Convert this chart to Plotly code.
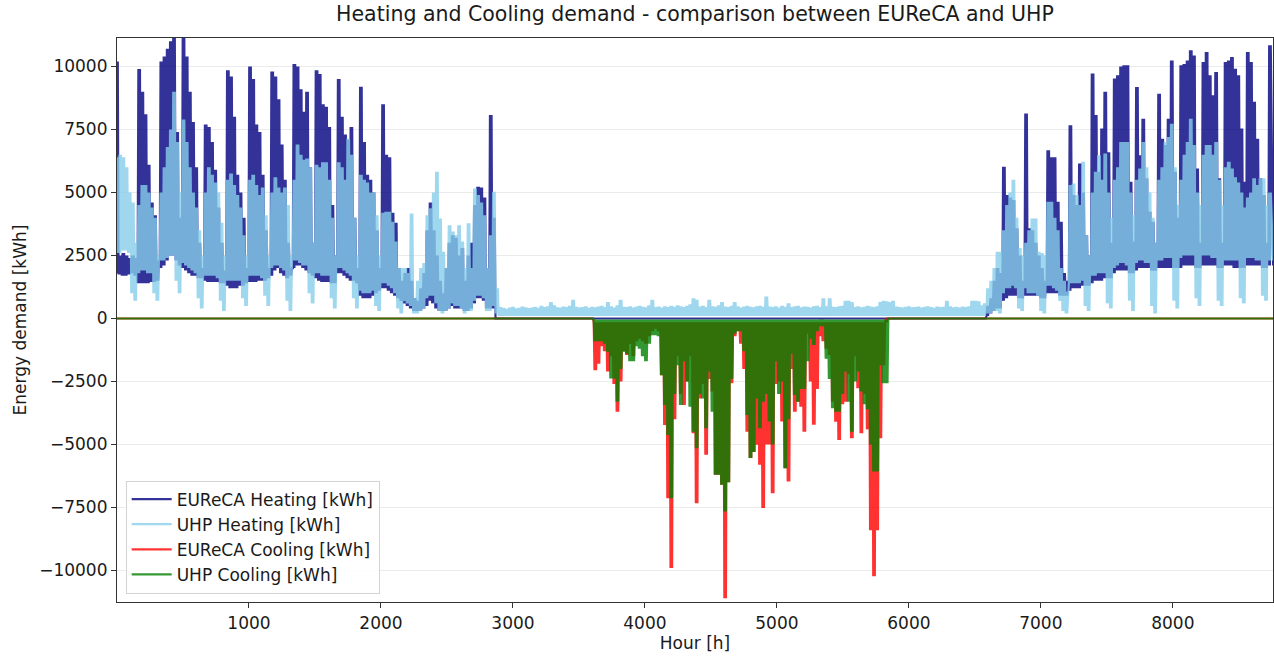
import plotly.graph_objects as go

# ---------------- data (daily envelopes, kWh) ----------------
# Winter part 1: day 0 .. 120
EURECA_HEAT_HI_W1 = [
    10200, 2500, 2600, 2500, 2400, 2500, 2400,
    9900, 9000, 8100, 6100, 4600, 4100, 2300,
    10200, 10400, 10700, 11000, 11200, 7400, 4000,
    11200, 10400, 9000, 7800, 6000, 3000, 2000,
    7700, 7600, 7000, 5900, 4400, 3000, 1900,
    9850, 9600, 8000, 5700, 5000, 4000, 2000,
    10000, 9500, 7700, 7400, 5700, 3500, 2000,
    9800, 9600, 8700, 6900, 5500, 3000, 2000,
    10100, 10000, 9100, 8200, 9000, 6000, 3000,
    9850, 9700, 8500, 8400, 7600, 4500, 2500,
    9500, 8000, 7300, 7100, 7600, 4000, 2000,
    9200, 7000, 5700, 5500, 5000, 3500, 2000,
    8500, 6500, 6400, 4200, 3800, 2000, 1500,
    1800, 2000, 1500, 800, 700, 1200, 1800,
    3500, 4600, 3500, 2500, 1500, 1000, 2000,
    3000, 3300, 3200, 2500, 2800, 1500, 2500,
    3000, 4500, 5230, 5200, 4800, 2000, 8070,
    4000, 0,
]
EURECA_HEAT_LO_W1 = [
    1800, 1750, 1700, 1700, 1750, 1800, 1700,
    1400, 1400, 1400, 1400, 1450, 1450, 1500,
    2000, 2100, 2300, 2500, 2500, 2300, 2100,
    2000, 1900, 1800, 1700, 1700, 1600, 1600,
    1500, 1450, 1450, 1450, 1450, 1400, 1400,
    1300, 1200, 1200, 1200, 1300, 1300, 1400,
    1450, 1450, 1450, 1500, 1500, 1500, 1600,
    1700, 1900, 2000, 1800, 1700, 1600, 1700,
    2000, 2100, 2100, 2000, 1900, 1800, 1700,
    1600, 1500, 1450, 1450, 1450, 1400, 1400,
    1800, 1800, 1700, 1600, 1500, 1500, 1400,
    900, 800, 800, 800, 900, 1000, 1100,
    1200, 1200, 1100, 1000, 900, 800, 700,
    600, 500, 400, 300, 300, 300, 400,
    500, 700, 600, 400, 300, 300, 300,
    400, 500, 400, 400, 400, 300, 300,
    400, 600, 800, 800, 700, 400, 400,
    400, 0,
]
UHP_HEAT_HI_W1 = [
    6400, 6500, 6400, 6000, 5000, 4600, 3000,
    4500, 5300, 5300, 5000, 4400, 4000, 2500,
    5000, 6000, 6800, 7500, 9000, 7000, 5000,
    7900, 7000, 6000, 5000, 4400, 3500, 2500,
    5000, 6000, 5700, 5400, 5000, 3800, 2500,
    5500, 5750, 5300, 4900, 4400, 3300, 2500,
    5500, 5700, 5300, 4900, 5200, 4100, 2500,
    5000, 5600, 5200, 5000, 5200, 4500, 2500,
    5500, 6900, 6500, 6300, 6350, 6000, 3000,
    6100, 6000, 6200, 6200, 5500, 4000, 2500,
    6200, 6000, 5500, 7130, 6500, 4000, 2500,
    5700, 5500, 5400, 5000, 5000, 4100, 2500,
    4200, 4240, 4240, 3840, 3050, 2000, 2000,
    2000, 1800, 4170, 800, 1500, 2000, 2200,
    4100, 4370, 5000, 5820, 3970, 2650, 2000,
    3700, 3450, 3300, 3700, 3050, 2000, 3780,
    2000, 5160, 4900, 4600, 4100, 2000, 3300,
    5030, 1200,
]
UHP_HEAT_LO_W1 = [
    2600, 2600, 2700, 2700, 2600, 1000, 700,
    1800, 1900, 1900, 1800, 1800, 1000, 700,
    2300, 2300, 2400, 2500, 2500, 1500, 1000,
    2200, 2100, 2000, 1900, 1800, 800, 400,
    1700, 1700, 1700, 1700, 1600, 700, 300,
    1500, 1500, 1500, 1500, 1500, 800, 500,
    1700, 1700, 1700, 1700, 1600, 900, 500,
    2000, 2100, 2100, 2000, 1900, 700, 300,
    2300, 2300, 2200, 2100, 2100, 1000, 600,
    1800, 1800, 1700, 1700, 1700, 800, 400,
    2000, 2000, 1900, 1800, 1700, 800, 400,
    1100, 1000, 1000, 1000, 1100, 500, 300,
    1400, 1400, 1300, 1200, 1000, 400, 200,
    700, 600, 500, 200, 200, 300, 400,
    800, 900, 900, 600, 300, 200, 300,
    400, 600, 500, 500, 400, 200, 300,
    300, 700, 900, 900, 800, 300, 300,
    500, 200,
]

# Summer: day 121 .. 274 (EUReCA heating is zero, UHP keeps a small base load)
EURECA_HEAT_SUMMER = 0
UHP_SUMMER_FLOOR = 100
UHP_HEAT_HI_SUMMER = [
    450, 420, 380, 430, 460, 400, 420, 470, 440, 410,
    430, 460, 420, 500, 450, 480, 650, 520, 440, 430,
    470, 450, 500, 740, 460, 430, 450, 480, 420, 460,
    440, 470, 500, 450, 650, 480, 430, 520, 740, 460,
    450, 480, 430, 470, 500, 460, 440, 520, 740, 450,
    470, 430, 480, 450, 500, 460, 520, 480, 450, 500,
    560, 800, 740, 470, 500, 450, 740, 480, 460, 520,
    650, 470, 450, 500, 650, 480, 430, 470, 500, 460,
    440, 480, 500, 460, 870, 470, 450, 480, 430, 500,
    460, 600, 450, 480, 500, 440, 470, 460, 430, 480,
    500, 450, 800, 480, 800, 460, 450, 480, 500, 700,
    700, 650, 450, 480, 440, 460, 500, 470, 450, 480,
    650, 700, 680, 650, 700, 470, 450, 430, 460, 480,
    440, 450, 470, 430, 460, 480, 450, 420, 470, 450,
    460, 700, 480, 440, 460, 430, 470, 450, 480, 700,
    700, 680, 520, 600,
]

# Winter part 2: day 275 .. 364
EURECA_HEAT_HI_W2 = [
    500, 800, 1500, 2000, 1800,
    6020, 4900, 4800, 4700, 3580, 2500, 1500,
    8130, 3580, 3500, 3000, 2500, 2000, 1500,
    6680, 6400, 6400, 4630, 3840, 1800, 1500,
    7670, 4900, 4500, 6150, 5000, 3300, 2500,
    9720, 8070, 5820, 7540, 9000, 6600, 3000,
    9520, 9650, 10000, 10050, 10050, 5430, 3050,
    9190, 6480, 7930, 5560, 4240, 3840, 3000,
    8920, 7130, 6880, 7930, 10240, 5820, 4000,
    10050, 10100, 10240, 10640, 10440, 5950, 3000,
    10180, 10570, 9650, 8860, 9780, 5560, 3000,
    10180, 10240, 10380, 9910, 9650, 7540, 5430,
    10570, 10180, 8600, 7130, 5560, 4900, 3000, 10840,
]
EURECA_HEAT_LO_W2 = [
    100, 200, 300, 400, 400,
    700, 800, 900, 900, 900, 800, 800,
    900, 900, 900, 900, 900, 800, 800,
    1000, 1000, 1000, 1000, 900, 900, 900,
    1100, 1200, 1200, 1200, 1300, 1300, 1300,
    1400, 1500, 1500, 1500, 1600, 1600, 1600,
    1800, 1900, 1900, 1900, 1900, 1800, 1800,
    1900, 2000, 2000, 2000, 2000, 1900, 1900,
    2000, 2000, 2000, 2000, 2000, 2000, 2000,
    2000, 2100, 2100, 2100, 2100, 2000, 2000,
    2100, 2100, 2100, 2100, 2100, 2000, 2000,
    2100, 2100, 2100, 2000, 2000, 2000, 2000,
    2100, 2100, 2100, 2100, 2100, 2000, 2000, 2100,
]
UHP_HEAT_HI_W2 = [
    1200, 1500, 2000, 2650, 2650,
    3500, 4500, 5000, 5500, 4000, 2800, 2500,
    3000, 3500, 3970, 3970, 2650, 2600, 2500,
    4630, 4630, 4000, 3500, 2000, 1500, 1070,
    5300, 5360, 4900, 4500, 6220, 3300, 2500,
    5000, 5820, 6480, 5500, 6550, 5000, 4000,
    5500, 6000, 7000, 7000, 7000, 5000, 4100,
    5500, 5950, 7000, 6000, 5000, 4000, 3000,
    5500, 6000, 7000, 7200, 7730, 6000, 4500,
    5500, 6500, 7000, 7930, 6880, 5000, 4500,
    6500, 6880, 6880, 6500, 7000, 5500, 4500,
    6000, 6220, 5950, 5600, 5400, 5000, 4400,
    4800, 5000, 5560, 5300, 5560, 5560, 4500, 5000,
]
UHP_HEAT_LO_W2 = [
    200, 200, 300, 300, 200,
    1000, 1200, 1200, 1300, 1200, 400, 300,
    1200, 1000, 1000, 1000, 900, 300, 200,
    1300, 1300, 1200, 1100, 700, 300, 200,
    1400, 1400, 1400, 1400, 1500, 500, 300,
    1700, 1700, 1800, 1800, 1800, 600, 400,
    2000, 2100, 2200, 2200, 2100, 700, 300,
    2200, 2300, 2300, 2200, 2200, 500, 200,
    2300, 2300, 2400, 2400, 2400, 700, 400,
    2400, 2500, 2500, 2500, 2500, 800, 500,
    2500, 2500, 2500, 2400, 2400, 700, 500,
    2300, 2300, 2300, 2300, 2300, 800, 600,
    2400, 2400, 2400, 2300, 2300, 900, 700, 2300,
]

# Cooling season: day 151 .. 243 (negative = cooling)
COOL_FIRST_DAY = 151
EURECA_COOL_MIN = [
    -2050, -1800, -1100, -1300, -2100, -1500, -2600, -3700, -2500, -1300,
    -1450, -1000, -1500, -900, -800, -900, -1000, -700, -500, -400,
    -500, -2250, -4230, -7130, -9900, -4000, -1500, -3000, -3430, -2500,
    -1500, -4550, -7330, -3170, -2600, -5410, -2400, -2900, -6200, -6200,
    -6600, -11100, -6500, -2570, -700, -500, -1000, -2000, -4490, -5540,
    -5300, -5010, -5800, -7520, -5000, -5000, -6930, -2600, -2500, -4090,
    -5940, -6470, -2000, -3700, -3300, -3500, -4490, -600, -2500, -4220,
    -2800, -700, -900, -1200, -1450, -3300, -4100, -4820, -3400, -3300,
    -2200, -4750, -1500, -2770, -4550, -3000, -4400, -8400, -10230, -8400,
    -4750, -1850, 0,
]
UHP_COOL_MIN = [
    -900, -900, -900, -1000, -1320, -2380, -2380, -3300, -2000, -1320,
    -1400, -1700, -1700, -1100, -1200, -1500, -1700, -1000, -660, -660,
    -700, -2250, -3430, -4620, -7130, -3000, -1850, -3430, -1700, -2500,
    -3500, -4490, -5150, -3000, -3170, -4360, -2100, -3700, -6200, -6200,
    -6600, -7660, -6500, -2400, -600, -500, -500, -1300, -3830, -5540,
    -5300, -3170, -4360, -3300, -3000, -4090, -5000, -1700, -3000, -2500,
    -5940, -4000, -1400, -3040, -3300, -2800, -2800, -1700, -800, -1050,
    -500, -300, -300, -1600, -2400, -3560, -3700, -3700, -3000, -2100,
    -3300, -4490, -2500, -2100, -2900, -3400, -3600, -5000, -6070, -6070,
    -1850, -2570, -2570,
]
EURECA_COOL_FLOOR = -150
UHP_COOL_FLOOR = -40

SERIES_NAMES = ["EUReCA Heating [kWh]", "UHP Heating [kWh]",
                "EUReCA Cooling [kWh]", "UHP Cooling [kWh]"]
Y_TICKS = [-10000, -7500, -5000, -2500, 0, 2500, 5000, 7500, 10000]
X_TICKS = [1000, 2000, 3000, 4000, 5000, 6000, 7000, 8000]

# ---------------- assemble full-year daily envelopes ----------------
N_SUMMER = len(UHP_HEAT_HI_SUMMER)
eureca_heat_hi = EURECA_HEAT_HI_W1 + [EURECA_HEAT_SUMMER] * N_SUMMER + EURECA_HEAT_HI_W2
eureca_heat_lo = EURECA_HEAT_LO_W1 + [EURECA_HEAT_SUMMER] * N_SUMMER + EURECA_HEAT_LO_W2
uhp_heat_hi = UHP_HEAT_HI_W1 + UHP_HEAT_HI_SUMMER + UHP_HEAT_HI_W2
uhp_heat_lo = UHP_HEAT_LO_W1 + [UHP_SUMMER_FLOOR] * N_SUMMER + UHP_HEAT_LO_W2

n_days = len(eureca_heat_hi)
n_after = n_days - COOL_FIRST_DAY - len(EURECA_COOL_MIN)
eureca_cool_hi = [0] * COOL_FIRST_DAY + EURECA_COOL_MIN + [0] * n_after
eureca_cool_lo = [0] * COOL_FIRST_DAY + [EURECA_COOL_FLOOR] * len(EURECA_COOL_MIN) + [0] * n_after
uhp_cool_hi = [0] * COOL_FIRST_DAY + UHP_COOL_MIN + [0] * n_after
uhp_cool_lo = [0] * COOL_FIRST_DAY + [UHP_COOL_FLOOR] * len(UHP_COOL_MIN) + [0] * n_after


def daily_profile(lo, hi):
    """hourly-like swing between each day's low and peak (two swings a day)"""
    xs, ys = [], []
    for d, (a, b) in enumerate(zip(lo, hi)):
        xs += [24 * d - 12, 24 * d - 6, 24 * d, 24 * d + 6]
        ys += [a, b, a, b]
    xs.append(24 * len(lo))
    ys.append(lo[-1])
    return xs, ys


series = [
    (eureca_heat_lo, eureca_heat_hi, "#000080"),
    (uhp_heat_lo, uhp_heat_hi, "#87ceeb"),
    (eureca_cool_lo, eureca_cool_hi, "#ff0000"),
    (uhp_cool_lo, uhp_cool_hi, "#008000"),
]

fig = go.Figure()
for name, (lo, hi, col) in zip(SERIES_NAMES, series):
    xs, ys = daily_profile(lo, hi)
    fig.add_trace(go.Scatter(
        x=xs, y=ys, mode="lines", name=name, legendgroup=name,
        line=dict(color=col, width=2.2), opacity=0.8,
    ))

FONT = "DejaVu Sans"
TXT = "#1a1a1a"
FS = 17
fig.update_layout(
    width=1274, height=659,
    margin=dict(l=117, r=1, t=38, b=57),
    paper_bgcolor="white", plot_bgcolor="white",
    font=dict(family=FONT, size=FS, color=TXT),
    title=dict(text="Heating and Cooling demand - comparison between EUReCA and UHP",
               x=0.5, xref="paper", xanchor="center",
               y=1 - 14 / 659, yref="container", yanchor="middle",
               font=dict(family=FONT, size=20.5, color=TXT)),
    showlegend=True,
    legend=dict(x=0.0075, y=0.015, xanchor="left", yanchor="bottom",
                bgcolor="rgba(255,255,255,0.85)", bordercolor="#d4d4d4", borderwidth=1,
                font=dict(family=FONT, size=FS, color=TXT), itemwidth=40,
                tracegroupgap=4, traceorder="normal"),
    xaxis=dict(range=[0, 8759], tickvals=X_TICKS, tickformat="d",
               showgrid=False, zeroline=False,
               showline=True, linecolor="#333333", linewidth=1.2, mirror=True,
               ticks="outside", ticklen=5, tickcolor="#333333",
               tickfont=dict(size=FS),
               title=dict(text="Hour [h]", standoff=5, font=dict(size=FS))),
    yaxis=dict(range=[-11250, 11130], tickvals=Y_TICKS, tickformat="d",
               showgrid=True, gridcolor="#ebebeb", gridwidth=1, zeroline=False,
               showline=True, linecolor="#333333", linewidth=1.2, mirror=True,
               ticks="outside", ticklen=5, tickcolor="#333333",
               tickfont=dict(size=FS),
               title=dict(text="Energy demand [kWh]", standoff=8, font=dict(size=FS))),
)

fig.write_html("out.html", config={"displayModeBar": False},
               post_script="document.body.style.margin='0px';")
